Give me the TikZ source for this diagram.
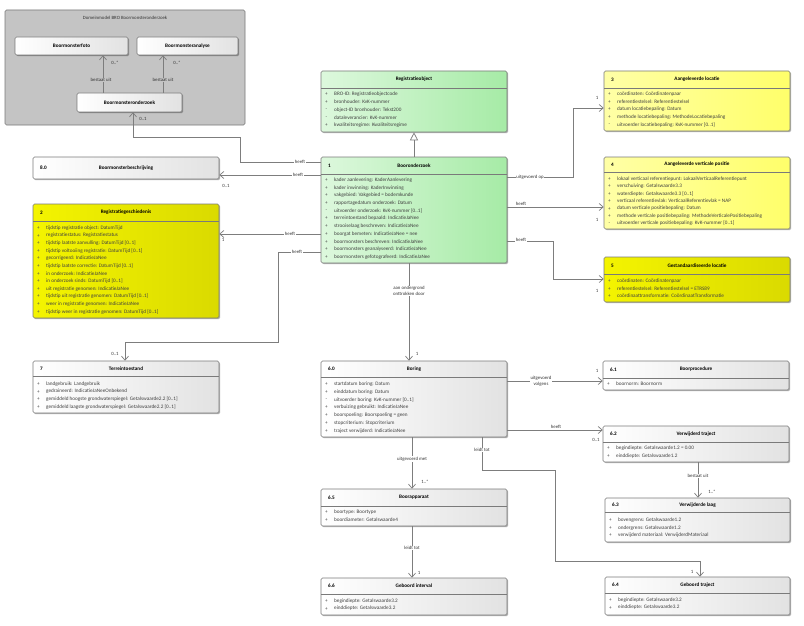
\documentclass[tikz,border=0pt]{standalone}
\usepackage{fontspec}
\setmainfont{Carlito}
\usetikzlibrary{arrows.meta,fit,shadows}
\definecolor{bordergray}{HTML}{7A7A7A}
\definecolor{linegray}{HTML}{7D7D7D}
\definecolor{pkgfill}{HTML}{C4C4C4}
\definecolor{gL}{HTML}{DDF8DD}
\definecolor{gR}{HTML}{A6EBA6}
\definecolor{yL}{HTML}{FFFFA6}
\definecolor{yR}{HTML}{FFFF6A}
\definecolor{YL}{HTML}{F4F400}
\definecolor{YR}{HTML}{DADA00}
\definecolor{wR}{HTML}{E2E2E2}
\newcommand{\umlcls}[9]{%
  \node[fit={(#3,#4) (#5,#6)}, inner sep=0pt, #2] (#1) {};
  \draw[hdr] (#3,#7) -- (#5,#7);
  \node[numtxt] at (#3+7,{(#4+#7)/2}) {#8};
  \node[ttltxt] at ({(#3+#5)/2},{(#4+#7)/2}) {#9};
}
\newcommand{\umlattrs}[4]{%
  \foreach \m/\t [count=\i from 0] in {#4} {
    \node[attmark] at (#1+5.5, #2+\i*#3) {\m};
    \node[atttxt] at (#1+13, #2+\i*#3) {\t};
  }
}
\begin{document}
\begin{tikzpicture}[x=1pt,y=-1pt,
  cbox/.style={draw=bordergray, line width=0.6pt, rounded corners=1.5pt,
    drop shadow={shadow xshift=1.2pt, shadow yshift=-1.2pt, opacity=0.3, fill=black}},
  gbox/.style={cbox, left color=gL, right color=gR},
  ybox/.style={cbox, left color=yL, right color=yR},
  Ybox/.style={cbox, left color=YL, right color=YR},
  wbox/.style={cbox, left color=white, right color=wR},
  hdr/.style={draw=bordergray, line width=0.5pt},
  numtxt/.style={anchor=west, inner sep=0pt, font=\fontsize{5.2}{6}\selectfont\bfseries},
  ttltxt/.style={inner sep=0pt, font=\fontsize{5.2}{6}\selectfont\bfseries},
  attmark/.style={inner sep=0pt, font=\fontsize{5.2}{6}\selectfont, text=black!70},
  atttxt/.style={anchor=west, inner sep=0pt, font=\fontsize{5.2}{6}\selectfont, text=black!75},
  assoc/.style={draw=linegray, line width=0.7pt, -{Straight Barb[length=4pt,width=7pt]}},
  gen/.style={draw=linegray, line width=0.7pt, -{Triangle[open,length=8pt,width=8pt,fill=white]}},
  lbl/.style={font=\fontsize{4.8}{5.6}\selectfont, text=black!80, inner sep=0.6pt, fill=white, align=center},
  mult/.style={font=\fontsize{4.8}{5.6}\selectfont, text=black!80, inner sep=0.5pt}
]
\useasboundingbox (0,0) rectangle (804,626);
\fill[white] (0,0) rectangle (804,626);

% ---------- package ----------
\node[fit={(5,10) (245,125)}, inner sep=0pt, draw=bordergray, fill=pkgfill, line width=0.6pt, rounded corners=1.5pt] (pkg) {};
\node[lbl, fill=none] (pkgtitle) at (125,18) {Domeinmodel BRO Boormonsteronderzoek};
\node[fit={(15,37) (128,55)}, inner sep=0pt, wbox] (bmfoto) {};
\node[ttltxt] at (bmfoto.center) {Boormonsterfoto};
\node[fit={(137,37) (238,55)}, inner sep=0pt, wbox] (bmanalyse) {};
\node[ttltxt] at (bmanalyse.center) {Boormonsteranalyse};
\node[fit={(77,93) (182,112)}, inner sep=0pt, wbox] (bmo) {};
\node[ttltxt] at (bmo.center) {Boormonsteronderzoek};

\draw[assoc] (bmo.north -| 103,0) -- (bmfoto.south -| 103,0);
\node[lbl, fill=pkgfill] at (101,80) {bestaat uit};
\node[mult] at (115,63) {0..*};
\draw[assoc] (bmo.north -| 163,0) -- (bmanalyse.south -| 163,0);
\node[lbl, fill=pkgfill] at (163,80) {bestaat uit};
\node[mult] at (177,63) {0..*};

% ---------- Registratieobject ----------
\umlcls{ro}{gbox}{321}{71}{507}{132}{88}{}{Registratieobject}
\umlattrs{321}{94.5}{7.7}{+/BRO-ID: Registratieobjectcode, +/bronhouder: KvK-nummer, -/object-ID bronhouder: Tekst200, -/dataleverancier: KvK-nummer, +/kwaliteitsregime: Kwaliteitsregime}

% ---------- Booronderzoek ----------
\umlcls{bo}{gbox}{321}{157}{507}{263}{174}{1}{Booronderzoek}
\umlattrs{321}{180}{7.7}{+/kader aanlevering: KaderAanlevering, +/kader inwinning: KaderInwinning, +/vakgebied: Vakgebied = bodemkunde, +/rapportagedatum onderzoek: Datum, -/uitvoerder onderzoek: KvK-nummer [0..1], +/terreintoestand bepaald: IndicatieJaNee, +/strooiselaag beschreven: IndicatieJaNee, +/boorgat bemeten: IndicatieJaNee = nee, +/boormonsters beschreven: IndicatieJaNee, +/boormonsters geanalyseerd: IndicatieJaNee, +/boormonsters gefotografeerd: IndicatieJaNee}

% ---------- 8.0 ----------
\node[fit={(33,157) (219,179)}, inner sep=0pt, wbox] (bmb) {};
\node[numtxt] at (40,168) {8.0};
\node[ttltxt] at (126,168) {Boormonsterbeschrijving};

% ---------- 2 ----------
\umlcls{rg}{Ybox}{33}{204}{219}{318}{221}{2}{Registratiegeschiedenis}
\umlattrs{33}{228}{7.6}{+/tijdstip registratie object: DatumTijd, +/registratiestatus: Registratiestatus, +/tijdstip laatste aanvulling: DatumTijd [0..1], +/tijdstip voltooiing registratie: DatumTijd [0..1], +/gecorrigeerd: IndicatieJaNee, +/tijdstip laatste correctie: DatumTijd [0..1], +/in onderzoek: IndicatieJaNee, +/in onderzoek sinds: DatumTijd [0..1], +/uit registratie genomen: IndicatieJaNee, +/tijdstip uit registratie genomen: DatumTijd [0..1], +/weer in registratie genomen: IndicatieJaNee, +/tijdstip weer in registratie genomen: DatumTijd [0..1]}

% ---------- 7 ----------
\umlcls{tt}{wbox}{33}{361}{219}{413}{376}{7}{Terreintoestand}
\umlattrs{33}{384}{7.6}{+/landgebruik: Landgebruik, +/gedraineerd: IndicatieJaNeeOnbekend, +/gemiddeld hoogste grondwaterspiegel: Getalswaarde2.2 [0..1], +/gemiddeld laagste grondwaterspiegel: Getalswaarde2.2 [0..1]}

% ---------- 3 ----------
\umlcls{al}{ybox}{604}{71}{790}{131}{88}{3}{Aangeleverde locatie}
\umlattrs{604}{94}{7.7}{+/coördinaten: Coördinatenpaar, +/referentiestelsel: Referentiestelsel, +/datum locatiebepaling: Datum, +/methode locatiebepaling: MethodeLocatiebepaling, -/uitvoerder locatiebepaling: KvK-nummer [0..1]}

% ---------- 4 ----------
\umlcls{avp}{ybox}{604}{157}{790}{229}{172}{4}{Aangeleverde verticale positie}
\umlattrs{604}{179}{7.4}{+/lokaal verticaal referentiepunt: LokaalVerticaalReferentiepunt, +/verschuiving: Getalswaarde3.3, +/waterdiepte: Getalswaarde3.3 [0..1], +/verticaal referentievlak: VerticaalReferentievlak = NAP, +/datum verticale positiebepaling: Datum, +/methode verticale positiebepaling: MethodeVerticalePositiebepaling, -/uitvoerder verticale positiebepaling: KvK-nummer [0..1]}

% ---------- 5 ----------
\umlcls{gl}{Ybox}{604}{257}{790}{302}{274}{5}{Gestandaardiseerde locatie}
\umlattrs{604}{281}{7.6}{+/coördinaten: Coördinatenpaar, +/referentiestelsel: Referentiestelsel = ETRS89, +/coördinaattransformatie: CoördinaatTransformatie}

% ---------- 6.0 ----------
\umlcls{bor}{wbox}{321}{361}{507}{437}{377}{6.0}{Boring}
\umlattrs{321}{384}{7.8}{+/startdatum boring: Datum, +/einddatum boring: Datum, -/uitvoerder boring: KvK-nummer [0..1], +/verbuizing gebruikt: IndicatieJaNee, +/boorspoeling: Boorspoeling = geen, +/stopcriterium: Stopcriterium, +/traject verwijderd: IndicatieJaNee}

% ---------- 6.1 ----------
\umlcls{bp}{wbox}{603}{361}{789}{390}{378}{6.1}{Boorprocedure}
\umlattrs{603}{384}{7.6}{+/boornorm: Boornorm}

% ---------- 6.2 ----------
\umlcls{vt}{wbox}{603}{426}{789}{462}{442}{6.2}{Verwijderd traject}
\umlattrs{603}{448.5}{7.6}{+/begindiepte: Getalswaarde1.2 = 0.00, +/einddiepte: Getalswaarde1.2}

% ---------- 6.3 ----------
\umlcls{vl}{wbox}{605}{498}{790}{542}{512}{6.3}{Verwijderde laag}
\umlattrs{605}{520.5}{7.5}{+/bovengrens: Getalswaarde1.2, +/ondergrens: Getalswaarde1.2, +/verwijderd materiaal: VerwijderdMateriaal}

% ---------- 6.4 ----------
\umlcls{gt}{wbox}{605}{577}{790}{615}{593}{6.4}{Geboord traject}
\umlattrs{605}{600}{7.6}{+/begindiepte: Getalswaarde3.2, +/einddiepte: Getalswaarde3.2}

% ---------- 6.5 ----------
\umlcls{ba}{wbox}{321}{489}{507}{526}{506}{6.5}{Boorapparaat}
\umlattrs{321}{512.5}{7.6}{+/boortype: Boortype, +/boordiameter: Getalswaarde4}

% ---------- 6.6 ----------
\umlcls{gi}{wbox}{321}{578}{507}{615}{594}{6.6}{Geboord interval}
\umlattrs{321}{601}{7.6}{+/begindiepte: Getalswaarde3.2, +/einddiepte: Getalswaarde3.2}

% ---------- connectors ----------
\draw[gen] (bo.north -| 414,0) -- (ro.south -| 414,0);

\draw[assoc] (bo.west |- 0,162) -- (240,162) -- (240,137) -- (133,137) -- (bmo.south -| 133,0);
\node[lbl] at (300,162) {heeft};
\node[mult] at (143,119) {0..1};

\draw[assoc] (bo.west |- 0,175) -- (bmb.east |- 0,175);
\node[lbl] at (298,175) {heeft};
\node[mult] at (226,186) {0..1};

\draw[assoc] (bo.west |- 0,234) -- (rg.east |- 0,234);
\node[lbl] at (290,234) {heeft};
\node[mult] at (223,240) {1};

\draw[assoc] (bo.west |- 0,252) -- (278,252) -- (278,342) -- (125,342) -- (tt.north -| 125,0);
\node[lbl] at (297,252) {heeft};
\node[mult] at (115,354) {0..1};

\draw[assoc] (bo.east |- 0,177) -- (573,177) -- (573,108) -- (al.west |- 0,108);
\node[lbl] at (530,177) {uitgevoerd op};
\node[mult] at (597,98) {1};

\draw[assoc] (bo.east |- 0,207) -- (avp.west |- 0,207);
\node[lbl] at (521,204) {heeft};
\node[mult] at (597,220) {1};

\draw[assoc] (bo.east |- 0,241) -- (553,241) -- (553,279) -- (gl.west |- 0,279);
\node[lbl] at (521,240) {heeft};
\node[mult] at (597,291) {1};

\draw[assoc] (bo.south -| 409,0) -- (bor.north -| 409,0);
\node[lbl] at (409,291) {aan ondergrond\\onttrokken door};
\node[mult] at (417,354) {1};

\draw[assoc] (bor.east |- 0,381) -- (bp.west |- 0,381);
\node[lbl] at (541,381) {uitgevoerd\\volgens};
\node[mult] at (597,371) {1};

\draw[assoc] (bor.east |- 0,430) -- (vt.west |- 0,430);
\node[lbl] at (556,427) {heeft};
\node[mult] at (596,440) {0..1};

\draw[assoc] (vt.south -| 698,0) -- (vl.north -| 698,0);
\node[lbl] at (698,476) {bestaat uit};
\node[mult] at (712,492) {1..*};

\draw[assoc] (bor.south -| 482,0) -- (482,470) -- (555,470) -- (555,561) -- (700,561) -- (gt.north -| 700,0);
\node[lbl] at (482,450) {leidt tot};
\node[mult] at (692,572) {1};

\draw[assoc] (bor.south -| 412,0) -- (ba.north -| 412,0);
\node[lbl] at (412,459) {uitgevoerd met};
\node[mult] at (425,482) {1..*};

\draw[assoc] (ba.south -| 412,0) -- (gi.north -| 412,0);
\node[lbl] at (412,548) {leidt tot};
\node[mult] at (419,573) {1};
\end{tikzpicture}
\end{document}
